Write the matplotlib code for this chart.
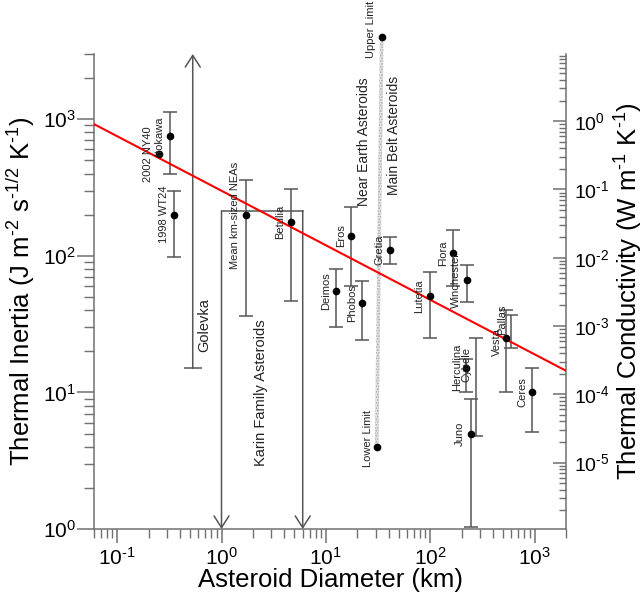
import numpy as np
import matplotlib
matplotlib.use("Agg")
import matplotlib.pyplot as plt
from matplotlib.ticker import LogLocator, NullFormatter, FuncFormatter

plt.rcParams['font.family'] = ['Liberation Sans', 'DejaVu Sans']
plt.rcParams['mathtext.fontset'] = 'custom'
plt.rcParams['mathtext.rm'] = 'Liberation Sans'
plt.rcParams['mathtext.it'] = 'Liberation Sans:italic'
plt.rcParams['mathtext.bf'] = 'Liberation Sans:bold'
plt.rcParams['axes.unicode_minus'] = False

# ---- data (diameter km, thermal inertia) ----
names = ["Itokawa", "1998 WT24", "Mean km-sized NEAs", "Betulia", "Eros", "Deimos",
         "Phobos", "Gretia", "Lutetia", "Flora", "Winchester", "Vesta", "Pallas",
         "Cybele", "Herculina", "Juno", "Ceres"]
diam = [0.32, 0.35, 1.7, 4.6, 17.6, 12.6, 22.4, 41, 99, 167, 224, 537, 590, 222, 277, 244, 952]
ti = [755, 200, 198, 178, 140, 55, 45, 111, 51, 104, 66, 25, np.nan, 15, np.nan, 5.0, 10]
ti_lo = [395, 98, 36, 47, 60, 30, 24, 87, 25, 60, 46, 10, 21, 10, 4.8, 1.03, 5.1]
ti_hi = [1120, 298, 359, 307, 228, 80, 65, 137, 76, 155, 86, 40, 37, 17.6, 25, 9, 15]

ny40_d, ny40_ti = 0.25, 555

golevka_d = 0.53
golevka_range = [15, 3000]

karin_d = [1.0, 6.0]
karin_top = 213

mba_d = [30.7, 34.3]
mba_ti = [4.0, 3980]

fit_d = [0.06, 2000]
fit_ti = [920, 14.4]

RHO_C = 9.38e5  # conversion k = I^2 / (rho c)

gray = "#555555"
axgray = "#707070"

fig = plt.figure(figsize=(6.40, 6.03), dpi=100)
ax = fig.add_axes([94/640, 1-529/603, (566-94)/640, (529-54)/603])
ax.set_xscale('log')
ax.set_yscale('log')
ax.set_xlim(0.06, 2000)
ax.set_ylim(1, 3000)

# main belt strip
ax.fill_betweenx([mba_ti[0], mba_ti[1]], [mba_d[0]*0.96, mba_d[1]*0.96], [mba_d[0]*1.04, mba_d[1]*1.04],
                 facecolor="#e8e8e8", edgecolor="#a8a8a8", hatch="......", lw=0.0, clip_on=False, zorder=1)
ax.plot(mba_d, mba_ti, 'o', color='black', ms=4.5, clip_on=False, zorder=5)

# red fit line
ax.plot(fit_d, fit_ti, color='red', lw=1.5, zorder=4)

# error bars
ti_arr = np.array(ti, dtype=float)
for d, v, lo, hi in zip(diam, ti, ti_lo, ti_hi):
    c = v if not np.isnan(v) else np.sqrt(lo * hi)
    ax.errorbar([d], [c], yerr=[[c - lo], [hi - c]],
                fmt='none', ecolor=gray, elinewidth=1.1, capsize=5, capthick=1.1, zorder=3)
mask = ~np.isnan(ti_arr)
ax.plot(np.array(diam)[mask], ti_arr[mask], 'o', color='black', ms=4.5, zorder=5)
ax.plot([ny40_d], [ny40_ti], 'o', color='black', ms=4.5, zorder=5)

arrow_style = dict(arrowstyle='->,head_length=0.7,head_width=0.45', color=gray, lw=1.1,
                   shrinkA=0, shrinkB=0, mutation_scale=12)
# Golevka
ax.annotate('', xy=(golevka_d, golevka_range[1]), xytext=(golevka_d, golevka_range[0]),
            arrowprops=arrow_style, zorder=3, annotation_clip=False)
ax.plot([golevka_d], [golevka_range[0]], marker='_', ms=13, mew=1.1, color=gray, zorder=3)

# Karin family box
ax.plot(karin_d, [karin_top, karin_top], color=gray, lw=1.1, zorder=3)
for kd in karin_d:
    ax.annotate('', xy=(kd, 1), xytext=(kd, karin_top),
                arrowprops=arrow_style, zorder=3, annotation_clip=False)

# labels
small = 8
off = -7.5
def lab(text, x, y, dx=off, dy=0, fs=small):
    ax.annotate(text, xy=(x, y), xytext=(dx, dy), textcoords='offset points', rotation=90,
                ha='center', va='center', fontsize=fs, color='#222222', zorder=6,
                annotation_clip=False)

for n, d, v in zip(names, diam, ti):
    if n in ("Pallas", "Herculina", "Cybele", "Vesta"):
        continue
    lab(n, d, v)
lab("2002 NY40", ny40_d, ny40_ti)
lab("Vesta", diam[11], ti[11], dx=-6.5, dy=-3)
lab("Pallas", diam[12], 28, dx=-6, dy=8)
lab("Cybele", diam[13], ti[13], dx=0, dy=3)
lab("Herculina", diam[13], ti[13], dx=-7, dy=1)
lab("Upper Limit", mba_d[1], mba_ti[1], dx=-7.5, dy=5.5)
lab("Lower Limit", mba_d[0], mba_ti[0], dx=-6.5, dy=6)
lab("Near Earth Asteroids", mba_d[1], mba_ti[1], dx=-12.5, dy=-75, fs=10)
lab("Main Belt Asteroids", mba_d[1], mba_ti[1], dx=9, dy=-71, fs=10)
lab("Golevka", golevka_d, golevka_range[0], dx=8, dy=31, fs=10.5)
lab("Karin Family Asteroids", karin_d[0], 1, dx=28.5, dy=98, fs=10.5)

def pow_fmt(v, pos):
    n = int(round(np.log10(v)))
    if n < 0:
        return r"$10^{\text{-}%d}$" % (-n)
    return r"$10^{%d}$" % n

# axes styling
for s in ('top', 'right'):
    ax.spines[s].set_visible(False)
for s in ('left', 'bottom'):
    ax.spines[s].set_color(axgray)
    ax.spines[s].set_linewidth(1.1)
ax.xaxis.set_major_locator(LogLocator(base=10, numticks=20))
ax.xaxis.set_minor_locator(LogLocator(base=10, subs=np.arange(2, 10), numticks=50))
ax.yaxis.set_major_locator(LogLocator(base=10, numticks=20))
ax.yaxis.set_minor_locator(LogLocator(base=10, subs=np.arange(2, 10), numticks=50))
ax.xaxis.set_major_formatter(FuncFormatter(pow_fmt))
ax.yaxis.set_major_formatter(FuncFormatter(pow_fmt))
ax.xaxis.set_minor_formatter(NullFormatter())
ax.yaxis.set_minor_formatter(NullFormatter())
ax.tick_params(axis='y', which='major', length=12, width=1.1, color=axgray, labelsize=15, pad=1)
ax.tick_params(axis='y', which='minor', length=7, width=1.0, color=axgray)
ax.tick_params(axis='x', which='major', length=10, width=1.1, color=axgray, labelsize=15, pad=3)
ax.tick_params(axis='x', which='minor', length=6.5, width=1.0, color=axgray)
ax.set_xlabel("Asteroid Diameter (km)", fontsize=18.5, labelpad=-1)
ax.set_ylabel("Thermal Inertia (J m$^{\\text{-}2}$ s$^{\\text{-}1/2}$ K$^{\\text{-}1}$)", fontsize=18.5, labelpad=4)

sec = ax.secondary_yaxis('right', functions=(lambda I: np.asarray(I)**2 / RHO_C,
                                              lambda k: np.sqrt(np.asarray(k) * RHO_C)))
sec.yaxis.set_major_locator(LogLocator(base=10, numticks=20))
sec.yaxis.set_minor_locator(LogLocator(base=10, subs=np.arange(2, 10), numticks=50))
sec.yaxis.set_major_formatter(FuncFormatter(pow_fmt))
sec.yaxis.set_minor_formatter(NullFormatter())
sec.spines['right'].set_color(axgray)
sec.spines['right'].set_linewidth(1.1)
sec.tick_params(which='major', direction='in', length=9.5, width=1.1, color=axgray, labelsize=14, pad=6)
sec.tick_params(which='minor', direction='in', length=5, width=1.0, color=axgray)
sec.set_ylabel("Thermal Conductivity (W m$^{\\text{-}1}$ K$^{\\text{-}1}$)", fontsize=18.5, labelpad=2)

fig.savefig("out.png", dpi=100)
